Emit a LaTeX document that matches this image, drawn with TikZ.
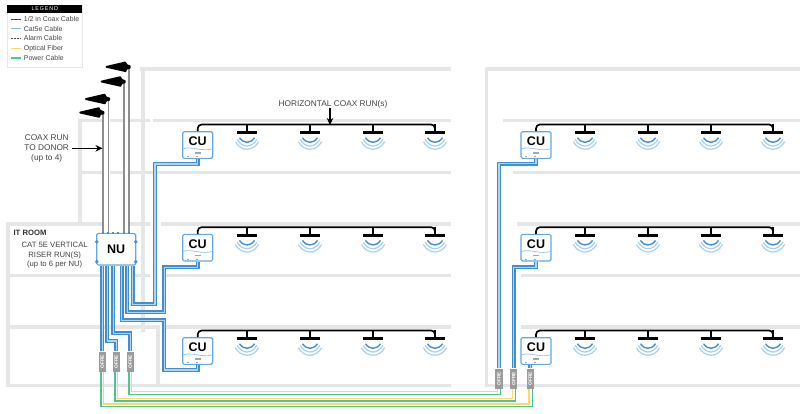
\documentclass[tikz,border=0pt]{standalone}
\usepackage{fontspec}
\usepackage{xcolor}
\usepackage{tikz}
\usetikzlibrary{arrows.meta}
\setmainfont{Liberation Sans}
\newfontfamily\legendfont[LetterSpace=16]{Liberation Sans}

\definecolor{wallgray}{HTML}{E4E6E7}
\definecolor{cablegray}{HTML}{8E8E8E}
\definecolor{labelgray}{HTML}{444444}
\definecolor{catblue}{HTML}{3F8FD2}
\definecolor{boxblue}{HTML}{62A9E0}
\definecolor{waveblue}{HTML}{A9D0EE}
\definecolor{fiberyellow}{HTML}{FFD966}
\definecolor{powergreen}{HTML}{4CC98A}
\definecolor{ofregray}{HTML}{9B9B9B}

\tikzset{
    wall/.style={wallgray, line width=3.4pt, line cap=rect},
    catrun/.style={draw=catblue, line width=1.3pt, double=catblue!40, double distance=1.1pt},
    coaxrun/.style={black, line width=1.7pt, rounded corners=4pt},
    coaxpole/.style={cablegray, line width=1.6pt},
    fiberrun/.style={fiberyellow, line width=1.5pt},
    powerrun/.style={powergreen, line width=1.5pt},
    callout/.style={black, line width=1.5pt, -{Stealth[length=7pt,width=6.5pt]}},
    nubox/.style={draw=boxblue, fill=white, line width=1.2pt, rounded corners=1.5pt,
        minimum width=39pt, minimum height=31.7pt, inner sep=0pt, font=\bfseries\fontsize{12.5}{12.5}\selectfont},
    cubox/.style={draw=boxblue, fill=white, line width=1.1pt, rounded corners=1.5pt,
        minimum width=30pt, inner sep=0pt, inner ysep=5pt, text height=8.6pt, text depth=8pt,
        font=\bfseries\fontsize{12.5}{12.5}\selectfont},
    antbar/.style={fill=black, minimum width=19.5pt, minimum height=2.6pt, inner sep=0pt},
    ofrebox/.style={fill=ofregray, minimum width=7.4pt, minimum height=20.4pt, inner sep=0pt,
        text=white, font=\bfseries\fontsize{4.8}{4.8}\selectfont},
    lbl/.style={text=labelgray, align=center, inner sep=0pt, font=\fontsize{7.7}{9.6}\selectfont},
    bigbl/.style={lbl, font=\fontsize{8.3}{9.6}\selectfont},
    legtext/.style={text=labelgray, anchor=west, inner sep=0pt, font=\fontsize{6.95}{7}\selectfont},
    legcoax/.style={black!70, line width=1.2pt},
    legcat/.style={boxblue!80, line width=1.2pt},
    legalarm/.style={black!70, line width=0.9pt, dashed, dash pattern=on 2pt off 1pt},
    legfiber/.style={fiberyellow, line width=1.2pt},
    legpower/.style={powergreen, line width=1.2pt},
}

\begin{document}
\begin{tikzpicture}[x=1pt,y=-1pt]
    \useasboundingbox (0,0) rectangle (800,413);

    % Walls, left building
    \foreach \xa/\xb/\yy in {142/449/69, 80/100/120.7, 112/121/120.7, 132/148/120.7, 155/449/120.7,
        80/100/172.5, 112/121/172.5, 132/153/172.5, 159/449/172.5,
        8/100/224, 132/148/224, 163/449/224,
        8/100/275.5, 137/148/275.5, 168/449/275.5,
        8/158/327, 168/449/327, 8/449/385.5} {
        \draw[wall] (\xa,\yy) -- (\xb,\yy);
    }
    \foreach \xx/\ya/\yb in {80/120.7/224, 8/224/385.5, 143/69/330, 158/327/385.5} {
        \draw[wall] (\xx,\ya) -- (\xx,\yb);
    }

    % Walls, right building
    \foreach \xa/\yy in {486.5/69, 505/120.7, 515/172.5, 519/224, 523/275.5, 523/327, 486.5/385.5} {
        \draw[wall] (\xa,\yy) -- (802,\yy);
    }
    \draw[wall] (486.5,69) -- (486.5,385.5);

    % Legend
    \draw[wallgray, line width=0.9pt] (7.3,5.3) rectangle (82.3,67.5);
    \node[fill=black, text=white, minimum width=75pt, minimum height=7.4pt, inner sep=0pt,
        font=\legendfont\fontsize{5.4}{5.4}\selectfont] (legendhead) at (44.8,9) {LEGEND};
    \foreach \n/\yy/\sty/\txt in {1/19.3/legcoax/{1/2 in Coax Cable}, 2/28.7/legcat/Cat5e Cable,
        3/38.5/legalarm/Alarm Cable, 4/48.3/legfiber/Optical Fiber, 5/58/legpower/Power Cable} {
        \draw[\sty] (11,\yy) -- (20.7,\yy);
        \node[legtext] (leg\n) at (23.7,\yy) {\txt};
    }

    % CUs, coax runs and antennas
    \foreach \side/\cx/\ax/\bx/\dx/\ex in {a/197.7/247/310/373/435, b/536/585/648/711/773} {
        \foreach \row/\cy in {1/145, 2/247.7, 3/351} {
            \node[cubox] (cu\side\row) at (\cx,\cy) {CU};
            \draw[boxblue!70, line width=0.7pt] (\cx-14.5,\cy+3.8) .. controls (\cx-6,\cy+0.8) and (\cx+4,\cy+7) .. (\cx+14.5,\cy+3.8);
            \fill[gray!70] (\cx-3,\cy+7.4) rectangle (\cx+3,\cy+8.6);
            \fill[gray!70] (\cx-10.8,\cy+11.2) rectangle (\cx-9.2,\cy+12.4);
            \fill[gray!70] (\cx-1.8,\cy+11.2) rectangle (\cx-0.2,\cy+12.4);
            \foreach \k/\xx in {1/\ax, 2/\bx, 3/\dx, 4/\ex} {
                \node[antbar] (bar\side\row\k) at (\xx,\cy-12.3) {};
                \draw[black, line width=1.7pt] (bar\side\row\k.north) -- ++(0,-7);
                \draw[waveblue, line width=1.2pt] (\xx-11.7,\cy-3.3) .. controls (\xx-6,\cy+6.8) and (\xx+6,\cy+6.8) .. (\xx+11.7,\cy-3.3);
                \draw[waveblue, line width=1.2pt] (\xx-10,\cy-5.7) .. controls (\xx-5,\cy+3.2) and (\xx+5,\cy+3.2) .. (\xx+10,\cy-5.7);
                \draw[catblue, line width=1.4pt] (\xx-7.5,\cy-7.3) .. controls (\xx-3.5,\cy-1.2) and (\xx+3.5,\cy-1.2) .. (\xx+7.5,\cy-7.3);
            }
            \draw[coaxrun] (cu\side\row.north) -- ++(0,-6.7) -| (bar\side\row4.north);
        }
    }

    % Coax labels
    \node[bigbl] (horizlbl) at (333,104) {HORIZONTAL COAX RUN(s)};
    \coordinate (runpt) at (330,125);
    \draw[callout] (horizlbl.south -| runpt) -- (runpt);
    \node[bigbl] (donorlbl) at (46.7,148.5) {COAX RUN\\TO DONOR\\(up to 4)};
    \coordinate (donorpt) at (102.5,148.3);

    % NU
    \node[nubox] (nu) at (116.2,249.2) {NU};
    \foreach \n/\x/\y in {1/104.3/112.7, 2/110/99.2, 3/125.7/81.7, 4/130.7/67} {
        \coordinate (ant\n) at (\x-1.5,\y);
        \draw[coaxpole] (ant\n) -- (ant\n |- nu.north);
        \fill[black, rounded corners=0.7pt] (\x-25,\y-0.9) -- (\x-5,\y-5.6) -- (\x-3.6,\y-2.6) -- (\x,\y-1.5)
            -- (\x,\y+1.5) -- (\x-3.6,\y+2.2) -- (\x-4.6,\y+5.2) -- (\x-25,\y+0.6) -- cycle;
    }
    \draw[callout] (donorlbl.east |- donorpt) ++(3,0) -- (donorpt);
    \foreach \x in {103,108,113.3,118.3,124,129} {
        \fill[catblue] (\x-1,232) rectangle (\x+1,234);
    }
    \foreach \x in {96.7,135.7} {
        \fill[catblue] (\x,241.7) circle (1.9);
        \fill[catblue] (\x,261.7) circle (1.9);
    }
    \node[lbl] (itlbl) at (30,233) {\bfseries\color{black!80}IT ROOM};
    \node[lbl] (riserlbl) at (54.7,255.2) {CAT 5E VERTICAL\\RISER RUN(S)\\(up to 6 per NU)};

    % OFRE units
    \foreach \n/\x/\y in {l1/102.3/361.8, l2/116.3/361.8, l3/130.3/361.8, r1/499/378.7, r2/513.7/378.7, r3/530.3/378.7} {
        \node[ofrebox] (of\n) at (\x,\y) {\rotatebox{90}{OFRE}};
    }

    % Cat5e risers
    \draw[catrun] ([xshift=16.5pt]nu.south) |- (155,304.3) -- (155,164) -| (cua1.south);
    \draw[catrun] ([xshift=11.1pt]nu.south) |- (164.3,312.3) -- (164.3,267.3) -| (cua2.south);
    \draw[catrun] ([xshift=5.5pt]nu.south) |- (164.3,320.3) -- (164.3,370) -| (cua3.south);
    \draw[catrun] ([xshift=-2.9pt]nu.south) |- (130.3,333.3) -- (ofl3.north);
    \draw[catrun] ([xshift=-8.9pt]nu.south) |- (116.3,341) -- (ofl2.north);
    \draw[catrun] (ofl1.north) -- (ofl1.north |- nu.south);
    \draw[catrun] (ofr1.north) -- (499,163.7) -| (cub1.south);
    \draw[catrun] (ofr2.north) -- (513.7,267.3) -| (cub2.south);
    \draw[catrun] (ofr3.north) -- (ofr3.north |- cub3.south);

    % Fiber and power between the buildings
    \draw[fiberrun] ([xshift=1.2pt]ofl3.south) -- ++(0,19.2) -| ([xshift=-1.7pt]ofr1.south);
    \draw[powerrun] ([xshift=-1.5pt]ofl3.south) -- ++(0,22.2) -| ([xshift=1.7pt]ofr1.south);
    \draw[fiberrun] ([xshift=1.2pt]ofl2.south) -- ++(0,26.3) -| ([xshift=-1.2pt]ofr2.south);
    \draw[powerrun] ([xshift=-1.5pt]ofl2.south) -- ++(0,28.9) -| ([xshift=2pt]ofr2.south);
    \draw[fiberrun] ([xshift=1.2pt]ofl1.south) -- ++(0,31.9) -| ([xshift=-1.2pt]ofr3.south);
    \draw[powerrun] ([xshift=-1.5pt]ofl1.south) -- ++(0,34.2) -| ([xshift=2.2pt]ofr3.south);
\end{tikzpicture}
\end{document}
